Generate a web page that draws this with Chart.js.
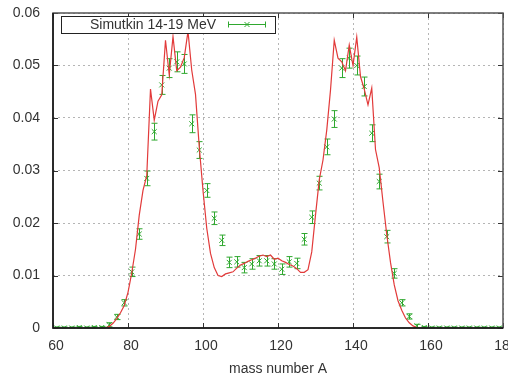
<!DOCTYPE html>
<html><head><meta charset="utf-8">
<script src="https://cdn.jsdelivr.net/npm/chart.js@4.4.1/dist/chart.umd.min.js"></script>
<style>html,body{margin:0;padding:0;background:#fff;}#wrap{position:relative;width:508px;height:376px;}canvas{display:block;}</style>
</head><body><div id="wrap"><canvas id="c" width="508" height="376" style="width:508px;height:376px"></canvas></div>
<script>
// Experimental data (Simutkin 14-19 MeV)
const expA = [61,63,65,67,69,71,73,75,77,79,81,83,85,87,89,91,93,95,97,99,101,103,105,107,109,111,113,115,117,119,121,123,125,127,129,131,133,135,137,139,141,143,145,147,149,151,153,155,157,159,161,163,165,167,169,171,173,175,177,179];
const expY = [0,0,0,0.0001,0,0.0001,0.0001,0.0006,0.0021,0.0048,0.0107,0.0179,0.0285,0.0374,0.0463,0.0495,0.0507,0.0503,0.0389,0.0339,0.0262,0.0209,0.0167,0.0125,0.0126,0.0115,0.0122,0.0128,0.0128,0.0122,0.0112,0.0126,0.0123,0.0169,0.0211,0.0276,0.0345,0.0398,0.0495,0.0514,0.0500,0.0460,0.0371,0.0279,0.0174,0.0104,0.0048,0.0022,0.0004,0.0001,0,0,0,0,0,0,0,0,0,0];
const expErr = [0.0002,0.0002,0.0002,0.0002,0.0002,0.0002,0.0002,0.0004,0.0005,0.0006,0.0009,0.0010,0.0014,0.0016,0.0018,0.0018,0.0019,0.0018,0.0017,0.0016,0.0013,0.0012,0.0010,0.0010,0.0010,0.0010,0.0010,0.0010,0.0010,0.0010,0.0010,0.0010,0.0010,0.0011,0.0012,0.0013,0.0015,0.0016,0.0018,0.0019,0.0018,0.0018,0.0016,0.0014,0.0012,0.0009,0.0006,0.0005,0.0003,0.0002,0.0002,0.0002,0.0002,0.0002,0.0002,0.0002,0.0002,0.0002,0.0002,0.0002];
// Calculated curve
const theoryA = [74,75,76,77,78,79,80,81,82,83,84,85,86,87,88,89,90,91,92,93,94,95,96,97,98,99,100,101,102,103,104,105,106,107,108,109,110,111,112,113,114,115,116,117,118,119,120,121,122,123,124,125,126,127,128,129,130,131,132,133,134,135,136,137,138,139,140,141,142,143,144,145,146,147,148,149,150,151,152,153,154,155,156,157,158,159];
const theoryY = [0,0.0003,0.0009,0.0018,0.0029,0.0043,0.0068,0.0105,0.0150,0.0215,0.0262,0.0290,0.0455,0.0396,0.0432,0.0444,0.0548,0.0482,0.0555,0.0490,0.0497,0.0515,0.0565,0.0491,0.0445,0.0345,0.0262,0.0190,0.0142,0.0115,0.0100,0.0098,0.0103,0.0105,0.0107,0.0114,0.0120,0.0123,0.0127,0.0130,0.0133,0.0137,0.0139,0.0136,0.0139,0.0131,0.0133,0.0128,0.0125,0.0121,0.0118,0.0113,0.0106,0.0106,0.0111,0.0145,0.0215,0.0282,0.0320,0.0377,0.0453,0.0548,0.0514,0.0507,0.0490,0.0539,0.0500,0.0554,0.0479,0.0455,0.0425,0.0457,0.0340,0.0305,0.0240,0.0178,0.0125,0.0082,0.0052,0.0034,0.0019,0.0010,0.0004,0.0001,0,0];
const xTicks = [60,80,100,120,140,160,180];
const yTicks = [0,0.01,0.02,0.03,0.04,0.05,0.06];
const xTitle = 'mass number A';
const legendLabel = 'Simutkin 14-19 MeV';

const GREEN = '#2fa82f';
const RED = '#e23a3a';
const TXT = '#333333';
const FONT = "'Liberation Sans', Arial, sans-serif";
Chart.defaults.font.family = FONT;

const errorBars = {
  id: 'errorBars',
  beforeDatasetsDraw(chart) {
    const ctx = chart.ctx, xs = chart.scales.x, ys = chart.scales.y;
    ctx.save();
    ctx.strokeStyle = GREEN; ctx.lineWidth = 1;
    for (let i = 0; i < expA.length; i++) {
      const px = Math.round(xs.getPixelForValue(expA[i])) + 0.5;
      const y1 = ys.getPixelForValue(Math.max(0, expY[i] - expErr[i]));
      const y2 = ys.getPixelForValue(expY[i] + expErr[i]);
      ctx.beginPath();
      ctx.moveTo(px, y1); ctx.lineTo(px, y2);
      ctx.moveTo(px - 3, y1); ctx.lineTo(px + 3, y1);
      ctx.moveTo(px - 3, y2); ctx.lineTo(px + 3, y2);
      ctx.stroke();
    }
    ctx.restore();
  }
};

const frame = {
  id: 'frame',
  afterDraw(chart) {
    const ctx = chart.ctx, a = chart.chartArea, xs = chart.scales.x, ys = chart.scales.y;
    ctx.save();
    // inward ticks
    ctx.strokeStyle = '#333'; ctx.lineWidth = 1;
    ctx.beginPath();
    xTicks.forEach(v => { const p = Math.round(xs.getPixelForValue(v)) + 0.5;
      ctx.moveTo(p, a.bottom); ctx.lineTo(p, a.bottom - 5);
      ctx.moveTo(p, a.top); ctx.lineTo(p, a.top + 5); });
    yTicks.forEach(v => { const p = Math.round(ys.getPixelForValue(v)) + 0.5;
      ctx.moveTo(a.left, p); ctx.lineTo(a.left + 5, p);
      ctx.moveTo(a.right, p); ctx.lineTo(a.right - 5, p); });
    ctx.stroke();
    // border
    ctx.strokeStyle = '#555'; ctx.lineWidth = 1.5;
    ctx.strokeRect(a.left, a.top, a.right - a.left, a.bottom - a.top);
    ctx.strokeStyle = '#111';
    ctx.beginPath(); ctx.moveTo(a.left, a.top); ctx.lineTo(a.left, a.bottom); ctx.lineTo(a.right, a.bottom); ctx.stroke();
    // legend
    ctx.fillStyle = '#fff';
    ctx.fillRect(62, 17, 214, 16);
    ctx.strokeStyle = '#222'; ctx.lineWidth = 1;
    ctx.strokeRect(61.5, 16.5, 214, 17);
    ctx.fillStyle = TXT; ctx.font = '14px ' + FONT;
    ctx.textAlign = 'right'; ctx.textBaseline = 'middle';
    ctx.fillText(legendLabel, 216, 25.5);
    ctx.strokeStyle = GREEN; ctx.lineWidth = 1;
    ctx.beginPath();
    ctx.moveTo(228, 24.5); ctx.lineTo(266, 24.5);
    ctx.moveTo(228.5, 21.5); ctx.lineTo(228.5, 27.5);
    ctx.moveTo(265.5, 21.5); ctx.lineTo(265.5, 27.5);
    ctx.moveTo(244.5, 22); ctx.lineTo(249.5, 27);
    ctx.moveTo(244.5, 27); ctx.lineTo(249.5, 22);
    ctx.stroke();
    ctx.restore();
  }
};

new Chart(document.getElementById('c'), {
  type: 'scatter',
  data: {
    datasets: [
      { label: 'calc', data: theoryA.map((a, i) => ({x: a, y: theoryY[i]})), showLine: true,
        borderColor: RED, borderWidth: 1.2, pointRadius: 0, tension: 0, fill: false },
      { label: legendLabel, data: expA.map((a, i) => ({x: a, y: expY[i]})), showLine: false,
        pointStyle: 'crossRot', pointRadius: 3.5, borderColor: GREEN, backgroundColor: GREEN, pointBorderWidth: 1 }
    ]
  },
  options: {
    responsive: false, animation: false, devicePixelRatio: 1,
    layout: { padding: { top: 13, right: 5, left: 0, bottom: 0 } },
    plugins: { legend: { display: false }, tooltip: { enabled: false } },
    scales: {
      x: {
        type: 'linear', min: 60, max: 180,
        afterBuildTicks: s => { s.ticks = xTicks.map(v => ({value: v})); },
        afterFit: s => { s.height = 48; s.paddingLeft = 0; s.paddingRight = 0; },
        ticks: { font: { size: 14 }, color: TXT, padding: 10, maxRotation: 0, autoSkip: false, labelOffset: 3 },
        grid: { color: '#b5b5b5', drawTicks: false, lineWidth: 1 },
        border: { display: false, dash: [2, 3] },
        title: { display: true, text: xTitle, color: TXT, font: { size: 14, lineHeight: 1 }, padding: { top: 0, bottom: 0 } }
      },
      y: {
        type: 'linear', min: 0, max: 0.06,
        afterBuildTicks: s => { s.ticks = yTicks.map(v => ({value: v})); },
        afterFit: s => { s.width = 53; s.paddingTop = 0; s.paddingBottom = 0; },
        ticks: { font: { size: 14 }, color: TXT, padding: 13, callback: v => String(Number(v.toFixed(2))) },
        grid: { color: '#b5b5b5', drawTicks: false, lineWidth: 1 },
        border: { display: false, dash: [2, 3] }
      }
    }
  },
  plugins: [errorBars, frame]
});
</script>
</body></html>
